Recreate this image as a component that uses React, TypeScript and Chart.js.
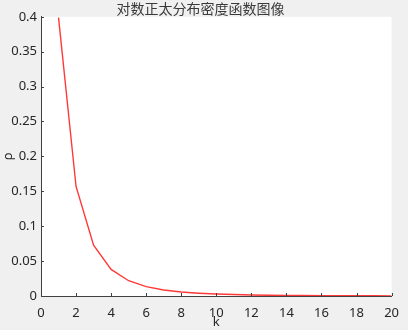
import React, { useEffect, useRef } from "react";
import { Chart, registerables } from "chart.js";

Chart.register(...registerables);

const kValues = [1, 2, 3, 4, 5, 6, 7, 8, 9, 10, 11, 12, 13, 14, 15, 16, 17, 18, 19, 20];
const rhoValues = [
  0.3989, 0.1569, 0.0727, 0.0381, 0.0219, 0.0134, 0.0086, 0.0057, 0.0040, 0.0028,
  0.0021, 0.0015, 0.0011, 0.00088, 0.00068, 0.00053, 0.00042, 0.00034, 0.00028, 0.00023,
];
const xTicks = [0, 2, 4, 6, 8, 10, 12, 14, 16, 18, 20];
const yTicks = [0, 0.05, 0.1, 0.15, 0.2, 0.25, 0.3, 0.35, 0.4];
const titleText = "对数正太分布密度函数图像";
const xLabel = "k";
const yLabel = "ρ";

const AXIS_COLOR = "#404040";
const TEXT_COLOR = "#262626";
const FONT = "'Noto Sans', 'DejaVu Sans', sans-serif";

const plotBg = {
  id: "plotBg",
  beforeDraw(chart: any) {
    const { ctx, chartArea } = chart;
    ctx.save();
    ctx.fillStyle = "#ffffff";
    ctx.fillRect(chartArea.left, chartArea.top, chartArea.right - chartArea.left, chartArea.bottom - chartArea.top);
    ctx.restore();
  },
};

const innerTicks = {
  id: "innerTicks",
  afterDraw(chart: any) {
    const { ctx, chartArea, scales } = chart;
    ctx.save();
    ctx.strokeStyle = AXIS_COLOR;
    ctx.lineWidth = 1;
    ctx.beginPath();
    for (const v of xTicks) {
      const px = Math.round(scales.x.getPixelForValue(v)) + 0.5;
      ctx.moveTo(px, chartArea.bottom);
      ctx.lineTo(px, chartArea.bottom - 3);
    }
    for (const v of yTicks) {
      const py = Math.round(scales.y.getPixelForValue(v)) + 0.5;
      ctx.moveTo(chartArea.left, py);
      ctx.lineTo(chartArea.left + 3, py);
    }
    ctx.stroke();
    ctx.restore();
  },
};

export default function App() {
  const ref = useRef<HTMLCanvasElement | null>(null);

  useEffect(() => {
    if (!ref.current) return;
    const chart = new Chart(ref.current, {
      type: "line",
      data: {
        datasets: [
          {
            data: kValues.map((k, i) => ({ x: k, y: rhoValues[i] })),
            borderColor: "#ff3838",
            borderWidth: 1.4,
            pointRadius: 0,
            fill: false,
            tension: 0,
          },
        ],
      },
      options: {
        animation: false,
        responsive: false,
        maintainAspectRatio: false,
        layout: { padding: { left: 0, right: 7, top: 0, bottom: 0 } },
        plugins: {
          legend: { display: false },
          tooltip: { enabled: false },
          title: {
            display: true,
            text: titleText,
            color: "#3a3a3a",
            font: { family: "'Noto Sans CJK SC', sans-serif", size: 14, weight: "normal" as any, lineHeight: 1.2 },
            padding: { top: 0, bottom: 0 },
          },
        },
        scales: {
          x: {
            type: "linear",
            min: 0,
            max: 20,
            afterBuildTicks: (scale: any) => {
              scale.ticks = xTicks.map((v) => ({ value: v }));
            },
            afterFit: (scale: any) => {
              scale.height = 34;
            },
            grid: { display: false, drawTicks: false },
            border: { display: true, color: AXIS_COLOR, width: 1 },
            ticks: {
              color: TEXT_COLOR,
              font: { family: FONT, size: 13, lineHeight: 1.2 },
              padding: 9,
              maxRotation: 0,
              autoSkip: false,
            },
            title: {
              display: true,
              text: xLabel,
              color: TEXT_COLOR,
              font: { family: FONT, size: 13, lineHeight: 1.2 },
              padding: 0,
            },
          },
          y: {
            type: "linear",
            min: 0,
            max: 0.4,
            afterBuildTicks: (scale: any) => {
              scale.ticks = yTicks.map((v) => ({ value: v }));
            },
            afterFit: (scale: any) => {
              scale.width = 41;
            },
            grid: { display: false, drawTicks: false },
            border: { display: true, color: AXIS_COLOR, width: 1 },
            ticks: {
              color: TEXT_COLOR,
              font: { family: FONT, size: 13, lineHeight: 1.2 },
              padding: 4,
              autoSkip: false,
              callback: (v: any) => String(Number(Number(v).toFixed(2))),
            },
            title: {
              display: true,
              text: yLabel,
              color: TEXT_COLOR,
              font: { family: FONT, size: 13, lineHeight: 1.2 },
              padding: 0,
            },
          },
        },
      },
      plugins: [plotBg, innerTicks],
    });
    return () => chart.destroy();
  }, []);

  return (
    <div style={{ position: "fixed", left: 0, top: 0, width: 408, height: 330, background: "#f0f0f0" }}>
      <canvas ref={ref} width={408} height={330} style={{ width: 408, height: 330, display: "block" }} />
    </div>
  );
}
